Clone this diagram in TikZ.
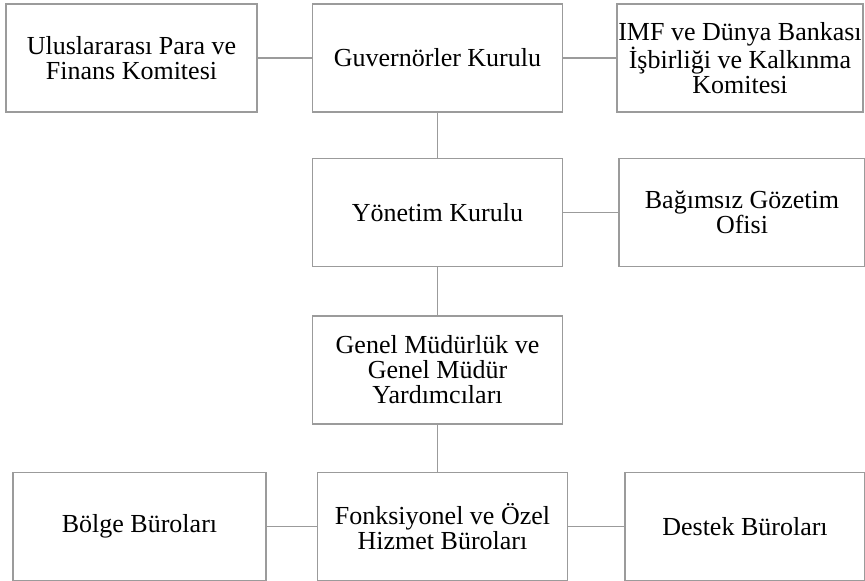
\documentclass[tikz,border=0pt]{standalone}
\usepackage{fontspec}
\setmainfont{Liberation Serif}
\usepackage{xcolor}
\usetikzlibrary{positioning}
\definecolor{boxline}{RGB}{155,155,155}
\tikzstyle{unit} = [rectangle, draw=boxline, line width=1.5pt, minimum width=250pt, minimum height=108pt, inner sep=0pt, text centered, align=center, font=\fontsize{26}{25}\selectfont]
\tikzstyle{link} = [draw=boxline, line width=1.5pt]

\begin{document}
\begin{tikzpicture}
    \useasboundingbox (0,0) rectangle (865pt,-581pt);

    % Ust sira
    \node (guv) [unit] at (437.5pt,-58pt) {Guvernörler Kurulu};
    \node (ulus) [unit, left=54pt of guv, minimum width=251pt] {Uluslararası Para ve\\Finans Komitesi};
    \node (imf) [unit, right=53pt of guv, minimum width=246pt] {IMF ve Dünya Bankası\\İşbirliği ve Kalkınma\\Komitesi};

    % Yonetim
    \node (yon) [unit, below=45pt of guv] {Yönetim Kurulu};
    \node (bag) [unit, right=55pt of yon, minimum width=246pt] {Bağımsız Gözetim\\Ofisi};

    % Genel mudurluk
    \node (gen) [unit, below=48pt of yon] {Genel Müdürlük ve\\Genel Müdür\\Yardımcıları};

    % Alt sira
    \node (fonk) [unit, below=47pt of gen, xshift=5pt] {Fonksiyonel ve Özel\\Hizmet Büroları};
    \node (bolge) [unit, left=50pt of fonk, minimum width=253pt] {Bölge Büroları};
    \node (destek) [unit, right=56pt of fonk, minimum width=240pt] {Destek Büroları};

    % Baglantilar
    \draw [link] (ulus) -- (guv);
    \draw [link] (guv) -- (imf);
    \draw [link] (guv) -- (yon);
    \draw [link] (yon) -- (bag);
    \draw [link] (yon) -- (gen);
    \draw [link] (gen.south) -- (gen.south |- fonk.north);
    \draw [link] (bolge) -- (fonk);
    \draw [link] (fonk) -- (destek);
\end{tikzpicture}
\end{document}
